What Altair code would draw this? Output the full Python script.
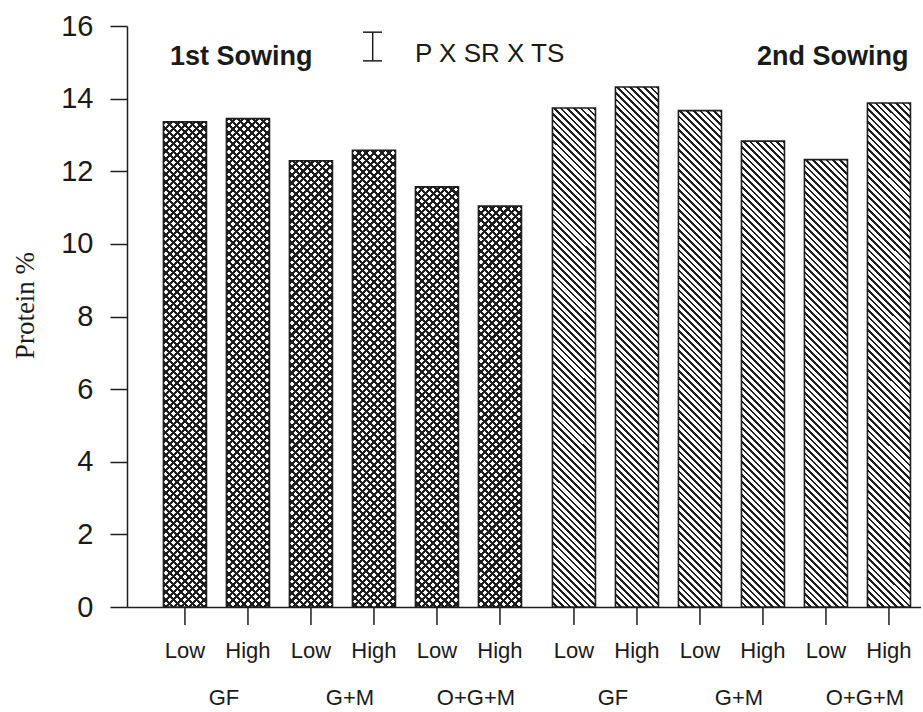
import altair as alt
import pandas as pd

# ---------------- data ----------------
sowings = ["1st Sowing", "2nd Sowing"]
systems = ["GF", "GF", "G+M", "G+M", "O+G+M", "O+G+M"]
levels = ["Low", "High", "Low", "High", "Low", "High"]
protein_1st = [13.36, 13.45, 12.29, 12.58, 11.57, 11.04]
protein_2nd = [13.74, 14.32, 13.67, 12.83, 12.32, 13.88]
y_ticks = [0, 2, 4, 6, 8, 10, 12, 14, 16]
lsd_low = [15.04]
lsd_high = [15.83]
annotation = ["P  X SR X TS"]

slots = [f"{s} {l}" for s, l in zip(systems, levels)]
rows = []
for si, (sow, vals) in enumerate(zip(sowings, [protein_1st, protein_2nd])):
    for k, v in enumerate(vals):
        rows.append({"idx": si * 6 + k, "sowing": sow, "system": systems[k],
                     "level": levels[k], "slot": slots[k], "protein": v})
df = pd.DataFrame(rows)

# ---------------- layout / style ----------------
PW, PH = 794, 581
PAD_L, PAD_T = 127, 26
TOTAL_H = 710
BAR_W = 43.0
PX_PER_UNIT = PH / 16.0
TXT = "#1a1a1a"
INK = "#1e1e1e"

x_scale = alt.Scale(domain=sowings, paddingInner=11 / 389, paddingOuter=0.0347, align=0.98)
xo_scale = alt.Scale(domain=slots, paddingInner=0.317, paddingOuter=0.1585)
y_scale = alt.Scale(domain=[0, 16], nice=False, zero=True)

x_axis = alt.Axis(labels=False, ticks=False, title=None, domain=True,
                  domainColor=INK, domainWidth=1.5, grid=False)
y_axis = alt.Axis(values=y_ticks, tickSize=17, tickColor=INK, tickWidth=1.5,
                  domainColor=INK, domainWidth=1.5, grid=False,
                  labelFont="Liberation Sans", labelFontSize=29, labelColor=TXT,
                  labelPadding=17, title="Protein %", titleFont="Liberation Serif",
                  titleFontSize=27, titleFontWeight="normal", titleColor=TXT,
                  titleAngle=270, titleX=-102, titleY=279, titleBaseline="middle",
                  titleAlign="center")


def hatch(h_px, w_px, period, frac, kind, dark, light):
    r = w_px / h_px
    s = (1 + r) / (1 + r * r)
    if kind == "back":      # "\" stripes
        x1, y1, x2, y2 = 1, 0, 1 - s * r, s
    else:                   # "/" stripes
        x1, y1, x2, y2 = 0, 0, s * r, s
    n = (h_px + w_px) / period
    stops = []
    k = 0
    while k / n < 1:
        a = k / n
        b = min((k + frac) / n, 1.0)
        c = min((k + 1) / n, 1.0)
        stops += [(a, dark), (b, dark), (b, light), (c, light)]
        k += 1
    return alt.LinearGradient(
        gradient="linear",
        stops=[alt.GradientStop(offset=round(o, 5), color=col) for o, col in stops],
        x1=x1, y1=y1, x2=x2, y2=y2)


base = alt.Chart(df)
enc_x = alt.X("sowing:N", scale=x_scale, axis=x_axis, sort=sowings)
enc_xo = alt.XOffset("slot:N", scale=xo_scale, sort=slots)
enc_y = alt.Y("protein:Q", scale=y_scale, axis=y_axis)

layers = []
for _, row in df.iterrows():
    h = row["protein"] * PX_PER_UNIT
    sel = base.transform_filter(alt.datum.idx == int(row["idx"]))
    if row["sowing"] == sowings[0]:
        g1 = hatch(h, BAR_W, 7.6, 0.40, "back", INK, "white")
        g2 = hatch(h, BAR_W, 7.6, 0.40, "fwd", INK, "rgba(255,255,255,0)")
        layers.append(sel.mark_bar(fill=g1, strokeWidth=0).encode(x=enc_x, xOffset=enc_xo, y=enc_y))
        layers.append(sel.mark_bar(fill=g2, stroke=INK, strokeWidth=1.6).encode(x=enc_x, xOffset=enc_xo, y=enc_y))
    else:
        g = hatch(h, BAR_W, 6.7, 0.40, "back", INK, "white")
        layers.append(sel.mark_bar(fill=g, stroke=INK, strokeWidth=1.6).encode(x=enc_x, xOffset=enc_xo, y=enc_y))

ticks = base.mark_rule(color=INK, strokeWidth=1.5).encode(
    x=enc_x, xOffset=enc_xo, y=alt.value(PH), y2=alt.value(PH + 18))

level_labels = base.mark_text(font="Liberation Sans", fontSize=22, color=TXT,
                              baseline="alphabetic", align="center").encode(
    x=enc_x, xOffset=enc_xo, y=alt.value(632), text="level:N")

group_labels = base.transform_filter(alt.datum.level == "Low").mark_text(
    font="Liberation Sans", fontSize=22, color=TXT, baseline="alphabetic",
    align="center", dx=39).encode(
    x=enc_x, xOffset=enc_xo, y=alt.value(TOTAL_H - PAD_T - 5), text="system:N")

titles_df = pd.DataFrame({"t": sowings})
sow_titles = alt.layer(*[
    alt.Chart(titles_df).transform_filter(alt.datum.t == t).mark_text(
        font="Liberation Sans", fontSize=27, fontWeight="bold", color=TXT,
        align="left", baseline="alphabetic").encode(
        x=alt.value(xp), y=alt.value(39), text="t:N")
    for t, xp in zip(sowings, [43, 630])
])

ann = alt.Chart(pd.DataFrame({"t": annotation})).mark_text(
    font="Liberation Sans", fontSize=26, color=TXT, align="left",
    baseline="alphabetic").encode(x=alt.value(288), y=alt.value(36), text="t:N")

err_df = pd.DataFrame({"lo": lsd_low, "hi": lsd_high})
err_v = alt.Chart(err_df).mark_rule(color=INK, strokeWidth=1.5).encode(
    x=alt.value(245.7), y=alt.Y("lo:Q", scale=y_scale, axis=y_axis), y2="hi:Q")
err_c1 = alt.Chart(err_df).mark_rule(color=INK, strokeWidth=1.5).encode(
    x=alt.value(236), x2=alt.value(255), y=alt.Y("lo:Q", scale=y_scale, axis=y_axis))
err_c2 = alt.Chart(err_df).mark_rule(color=INK, strokeWidth=1.5).encode(
    x=alt.value(236), x2=alt.value(255), y=alt.Y("hi:Q", scale=y_scale, axis=y_axis))

chart = alt.layer(*layers, ticks, level_labels, group_labels, sow_titles, ann,
                  err_v, err_c1, err_c2).properties(
    width=PW, height=PH,
    padding={"left": PAD_L, "top": PAD_T, "right": 0, "bottom": TOTAL_H - PAD_T - PH},
    autosize=alt.AutoSizeParams(type="none"),
    background="white",
).configure_view(stroke=None)

chart.save("out.html", embed_options={"renderer": "svg", "actions": False})
